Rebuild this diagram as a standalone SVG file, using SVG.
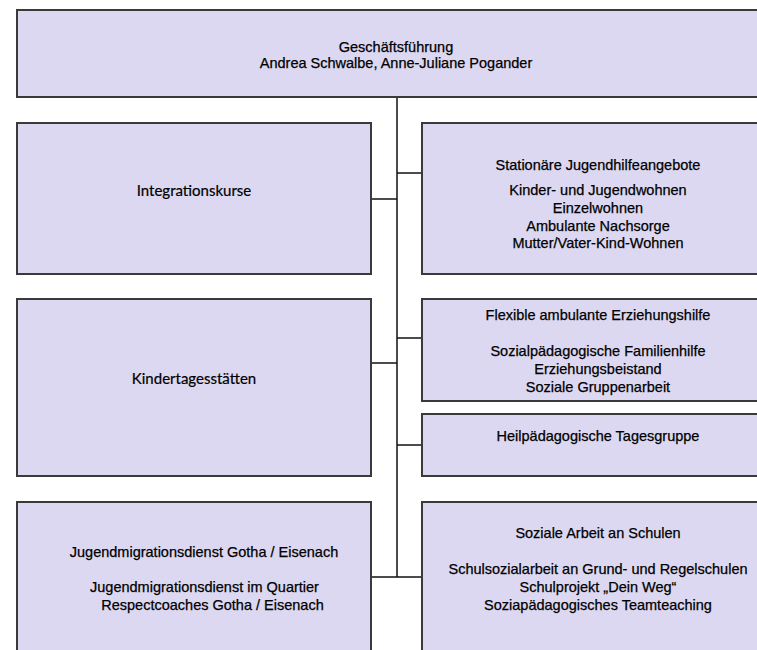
<svg xmlns="http://www.w3.org/2000/svg" width="757" height="650" viewBox="0 0 757 650">
<style>
.box{fill:#dcd8f1;stroke:#3a3a3a;stroke-width:2}
.t{font-family:"Liberation Sans",Arial,sans-serif;font-size:14.5px;fill:#000;stroke:#000;stroke-width:0.25;text-anchor:middle}
.c{font-family:Lato,"Open Sans",sans-serif;font-size:15px;fill:#000;stroke:#000;stroke-width:0.2;text-anchor:middle}
.ln{stroke:#111;stroke-width:1.5;fill:none}
</style>
<rect width="757" height="650" fill="#ffffff"/>
<g id="connectors">
<path class="ln" d="M397 97V577"/>
<path class="ln" d="M371 199H397"/>
<path class="ln" d="M397 173H422"/>
<path class="ln" d="M371 363H397"/>
<path class="ln" d="M397 338H422"/>
<path class="ln" d="M397 445H422"/>
<path class="ln" d="M371 577H422"/>
</g>
<g id="geschaeftsfuehrung">
<rect class="box" x="17" y="10" width="760" height="87"/>
<text class="t" x="396" y="52">Geschäftsführung</text>
<text class="t" x="396" y="68">Andrea Schwalbe, Anne-Juliane Pogander</text>
</g>
<g id="integrationskurse">
<rect class="box" x="17" y="123" width="354" height="151"/>
<text class="c" x="194" y="196">Integrationskurse</text>
</g>
<g id="stationaer">
<rect class="box" x="422" y="123" width="355" height="151"/>
<text class="t" x="598" y="170">Stationäre Jugendhilfeangebote</text>
<text class="t" x="598" y="195">Kinder- und Jugendwohnen</text>
<text class="t" x="598" y="213">Einzelwohnen</text>
<text class="t" x="598" y="230.5">Ambulante Nachsorge</text>
<text class="t" x="598" y="248">Mutter/Vater-Kind-Wohnen</text>
</g>
<g id="kindertagesstaetten">
<rect class="box" x="17" y="299" width="354" height="177"/>
<text class="c" x="194" y="384">Kindertagesstätten</text>
</g>
<g id="flexible">
<rect class="box" x="422" y="299" width="355" height="102"/>
<text class="t" x="598" y="320">Flexible ambulante Erziehungshilfe</text>
<text class="t" x="598" y="356">Sozialpädagogische Familienhilfe</text>
<text class="t" x="598" y="374">Erziehungsbeistand</text>
<text class="t" x="598" y="391.5">Soziale Gruppenarbeit</text>
</g>
<g id="heilpaedagogisch">
<rect class="box" x="422" y="414" width="355" height="62"/>
<text class="t" x="598" y="441">Heilpädagogische Tagesgruppe</text>
</g>
<g id="jugendmigrationsdienst">
<rect class="box" x="17" y="502" width="354" height="160"/>
<text class="t" x="204" y="556.5">Jugendmigrationsdienst Gotha / Eisenach</text>
<text class="t" x="204.5" y="592">Jugendmigrationsdienst im Quartier</text>
<text class="t" x="212.5" y="610">Respectcoaches Gotha / Eisenach</text>
</g>
<g id="schulen">
<rect class="box" x="422" y="502" width="355" height="160"/>
<text class="t" x="598" y="537.5">Soziale Arbeit an Schulen</text>
<text class="t" x="598" y="574">Schulsozialarbeit an Grund- und Regelschulen</text>
<text class="t" x="598" y="592">Schulprojekt „Dein Weg“</text>
<text class="t" x="598" y="610">Soziapädagogisches Teamteaching</text>
</g>
</svg>
